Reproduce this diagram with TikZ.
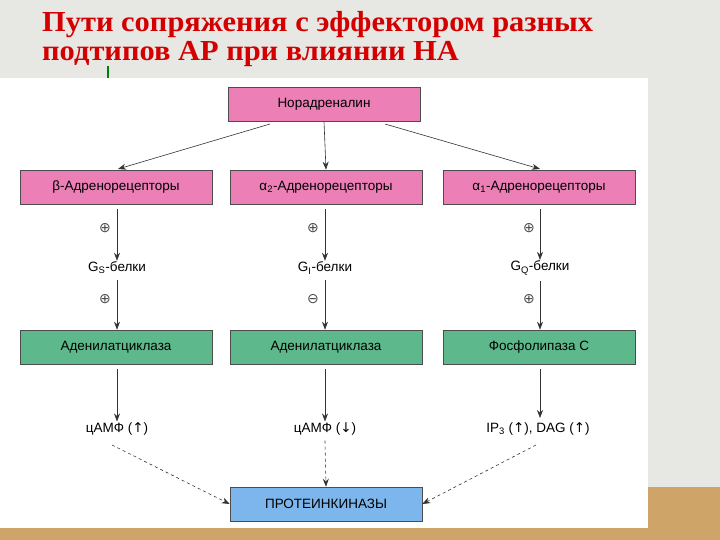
\documentclass[tikz,border=0pt]{standalone}
\usepackage{fontspec}
\setmainfont{Liberation Sans}
\newfontfamily\titlefont{Liberation Serif}
\newfontfamily\symf{DejaVu Sans}
\usetikzlibrary{arrows.meta}
\definecolor{pinkb}{HTML}{EC7FB6}
\definecolor{greenb}{HTML}{5DB98C}
\definecolor{blueb}{HTML}{7DB6EC}
\definecolor{titlered}{HTML}{D40000}
\definecolor{bggray}{HTML}{E7E7E4}
\definecolor{strip}{HTML}{CFA468}
\tikzset{
 box/.style={draw=black!70, line width=0.6pt, minimum width=192pt, minimum height=34pt, font=\fontsize{13.5}{15}\selectfont, inner sep=0pt},
 pinkbox/.style={box, fill=pinkb},
 greenbox/.style={box, fill=greenb},
 bluebox/.style={box, fill=blueb},
 lbl/.style={font=\fontsize{13.5}{15}\selectfont, inner sep=1pt},
 sign/.style={font=\symf\fontsize{14}{16}\selectfont, inner sep=0pt, text=black!70},
 arr/.style={-{Stealth[length=8pt,width=6pt]}, line width=0.6pt, black!80},
 darr/.style={arr, dashed}
}
\begin{document}
\begin{tikzpicture}[x=1pt,y=-1pt]
\useasboundingbox (0,0) rectangle (720,540);
\fill[bggray] (0,0) rectangle (720,540);
\fill[strip] (648,487) rectangle (720,540);
\fill[strip] (0,525) rectangle (720,540);
\fill[white] (0,78) rectangle (648,528);
\node[anchor=west, text=titlered, font=\titlefont\bfseries\fontsize{29}{32}\selectfont, inner sep=0pt, xscale=1.05] (t1) at (42,25) {Пути сопряжения с эффектором разных};
\node[anchor=west, text=titlered, font=\titlefont\bfseries\fontsize{29}{32}\selectfont, inner sep=0pt, xscale=1.05] (t2) at (42,54) {подтипов АР при влиянии НА};
\draw[green!50!black, line width=1.5pt] (108,66) -- (108,78);

\node[pinkbox] (n) at (324,104) {Норадреналин};
\node[pinkbox] (b) at (116,187) {β-Адренорецепторы};
\node[pinkbox] (a2) at (326,187) {α\textsubscript{2}-Адренорецепторы};
\node[pinkbox] (a1) at (539,187) {α\textsubscript{1}-Адренорецепторы};

\node[lbl] (gs) at (117,268) {G\textsubscript{S}-белки};
\node[lbl] (gi) at (325,268) {G\textsubscript{I}-белки};
\node[lbl] (gq) at (540,268) {G\textsubscript{Q}-белки};

\node[greenbox] (c1) at (116,347) {Аденилатциклаза};
\node[greenbox] (c2) at (326,347) {Аденилатциклаза};
\node[greenbox] (c3) at (539,347) {Фосфолипаза С};

\node[lbl] (m1) at (117,429) {цАМФ ({\symf↑})};
\node[lbl] (m2) at (325,429) {цАМФ ({\symf↓})};
\node[lbl] (m3) at (538,429) {IP\textsubscript{3} ({\symf↑}), DAG ({\symf↑})};

\node[bluebox] (p) at (326,504) {ПРОТЕИНКИНАЗЫ};

\coordinate (ns) at (270,124);
\coordinate (ne) at (385,124);
\draw[arr] (ns) -- (118,169);
\draw[arr] (n.south) -- (a2.north);
\draw[arr] (ne) -- (540,169);

\draw[arr] (b.south -| gs) +(0,5) -- (gs.north);
\draw[arr] (a2.south -| gi) +(0,5) -- (gi.north);
\draw[arr] (a1.south -| gq) +(0,5) -- (gq.north);
\node[sign] (s1) at (105,228) {⊕};
\node[sign] (s2) at (313,228) {⊕};
\node[sign] (s3) at (529,228) {⊕};

\draw[arr] (gs.south) ++(0,5) -- (c1.north -| gs);
\draw[arr] (gi.south) ++(0,5) -- (c2.north -| gi);
\draw[arr] (gq.south) ++(0,5) -- (c3.north -| gq);
\node[sign] (s4) at (105,299) {⊕};
\node[sign] (s5) at (313,299) {⊖};
\node[sign] (s6) at (529,299) {⊕};

\draw[arr] (c1.south -| m1) +(0,5) -- (m1.north);
\draw[arr] (c2.south -| m2) +(0,5) -- (m2.north);
\draw[arr] (c3.south -| 540,0) +(0,5) -- (540,418);

\draw[darr] (112,445) -- (p.west);
\draw[darr] (m2.south) ++(0,4) -- (p.north);
\draw[darr] (536,445) -- (p.east);
\end{tikzpicture}
\end{document}
